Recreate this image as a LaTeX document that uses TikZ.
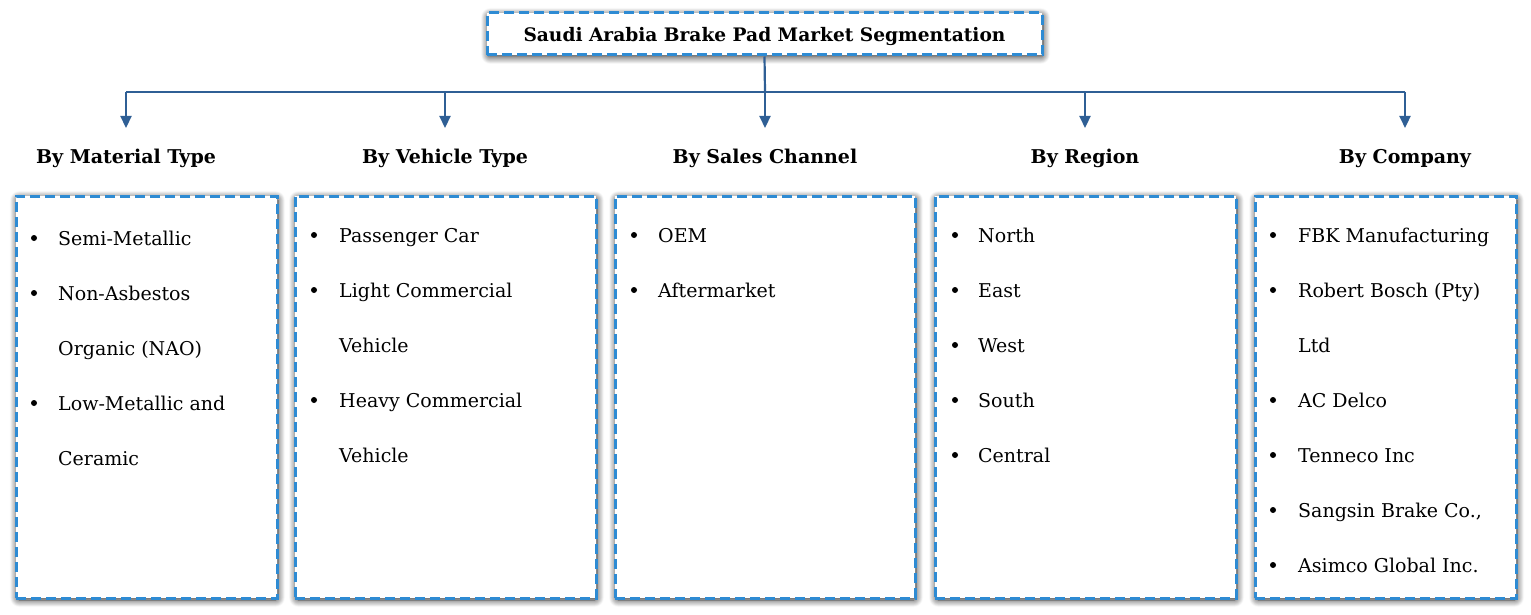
\documentclass[tikz,border=0pt]{standalone}
\usepackage{fontspec}
\setmainfont{DejaVu Serif}
\usetikzlibrary{arrows.meta,shadows.blur}
\definecolor{dashblue}{HTML}{2E8BD3}
\definecolor{linkblue}{HTML}{2F5F95}
\tikzset{
  boxframe/.style={draw=dashblue,line width=3pt,dash pattern=on 10pt off 5pt,fill=white,
    blur shadow={shadow blur steps=10,shadow xshift=1pt,shadow yshift=-2pt,shadow blur extra rounding=2pt,shadow blur radius=7pt,shadow opacity=85}},
  link/.style={draw=linkblue,line width=2.2pt},
  arr/.style={link,-{Triangle[length=12pt,width=11pt]}},
  head/.style={anchor=base,inner sep=0pt,font=\fontsize{19}{22}\selectfont\bfseries},
  titlefont/.style={anchor=base,inner sep=0pt,font=\fontsize{18.6}{22}\selectfont\bfseries},
  item/.style={anchor=base west,inner sep=0pt,font=\fontsize{19}{22}\selectfont},
  dot/.style={circle,fill=black,inner sep=0pt,minimum size=6pt},
}
\begin{document}
\begin{tikzpicture}[x=1pt,y=-1pt]
\useasboundingbox (0,0) rectangle (1531,615);
% title
\node[boxframe,minimum width=555pt,minimum height=42pt] (title) at (764.5,34) {};
\node[titlefont] (titletext) at (764.5,41.5) {Saudi Arabia Brake Pad Market Segmentation};
% connectors
\coordinate (hub) at (765,92);
\coordinate (l1) at (126,92);
\coordinate (l5) at (1405,92);
\draw[link] (title.south) -- (hub);
\draw[link] (l1) -- (l5);
% headers
\node[head] (h1) at (126,163.5) {By Material Type};
\node[head] (h2) at (445,163.5) {By Vehicle Type};
\node[head] (h3) at (765,163.5) {By Sales Channel};
\node[head] (h4) at (1085,163.5) {By Region};
\node[head] (h5) at (1405,163.5) {By Company};
\coordinate (a1) at (126,92);
\coordinate (a2) at (445,92);
\coordinate (a3) at (765,92);
\coordinate (a4) at (1085,92);
\coordinate (a5) at (1405,92);
\coordinate (b1) at (126,128);
\coordinate (b2) at (445,128);
\coordinate (b3) at (765,128);
\coordinate (b4) at (1085,128);
\coordinate (b5) at (1405,128);
\foreach \i in {1,...,5} { \draw[arr] (a\i) -- (b\i); }
% boxes
\node[boxframe,minimum width=261pt,minimum height=402pt] (box1) at (146.5,397) {};
\node[boxframe,minimum width=301pt,minimum height=402pt] (box2) at (445.5,397) {};
\node[boxframe,minimum width=300pt,minimum height=402pt] (box3) at (765,397) {};
\node[boxframe,minimum width=301pt,minimum height=402pt] (box4) at (1085.5,397) {};
\node[boxframe,minimum width=261pt,minimum height=402pt] (box5) at (1385.5,397) {};
% box 1
\node[dot] (d11) at (34,238) {}; \node[item] (t11) at (58,245) {Semi-Metallic};
\node[dot] (d12) at (34,293) {}; \node[item] (t12) at (58,300) {Non-Asbestos};
\node[item] (t12b) at (58,355) {Organic (NAO)};
\node[dot] (d13) at (34,403) {}; \node[item] (t13) at (58,410) {Low-Metallic and};
\node[item] (t13b) at (58,465) {Ceramic};
% box 2
\node[dot] (d21) at (314,235) {}; \node[item] (t21) at (339,242) {Passenger Car};
\node[dot] (d22) at (314,290) {}; \node[item] (t22) at (339,297) {Light Commercial};
\node[item] (t22b) at (339,352) {Vehicle};
\node[dot] (d23) at (314,400) {}; \node[item] (t23) at (339,407) {Heavy Commercial};
\node[item] (t23b) at (339,462) {Vehicle};
% box 3
\node[dot] (d31) at (634,235) {}; \node[item] (t31) at (658,242) {OEM};
\node[dot] (d32) at (634,290) {}; \node[item] (t32) at (658,297) {Aftermarket};
% box 4
\node[dot] (d41) at (955,235) {}; \node[item] (t41) at (978,242) {North};
\node[dot] (d42) at (955,290) {}; \node[item] (t42) at (978,297) {East};
\node[dot] (d43) at (955,345) {}; \node[item] (t43) at (978,352) {West};
\node[dot] (d44) at (955,400) {}; \node[item] (t44) at (978,407) {South};
\node[dot] (d45) at (955,455) {}; \node[item] (t45) at (978,462) {Central};
% box 5
\node[dot] (d51) at (1273,235) {}; \node[item] (t51) at (1298,242) {FBK Manufacturing};
\node[dot] (d52) at (1273,290) {}; \node[item] (t52) at (1298,297) {Robert Bosch (Pty)};
\node[item] (t52b) at (1298,352) {Ltd};
\node[dot] (d53) at (1273,400) {}; \node[item] (t53) at (1298,407) {AC Delco};
\node[dot] (d54) at (1273,455) {}; \node[item] (t54) at (1298,462) {Tenneco Inc};
\node[dot] (d55) at (1273,510) {}; \node[item] (t55) at (1298,517) {Sangsin Brake Co.,};
\node[dot] (d56) at (1273,565) {}; \node[item] (t56) at (1298,572) {Asimco Global Inc.};
\end{tikzpicture}
\end{document}
